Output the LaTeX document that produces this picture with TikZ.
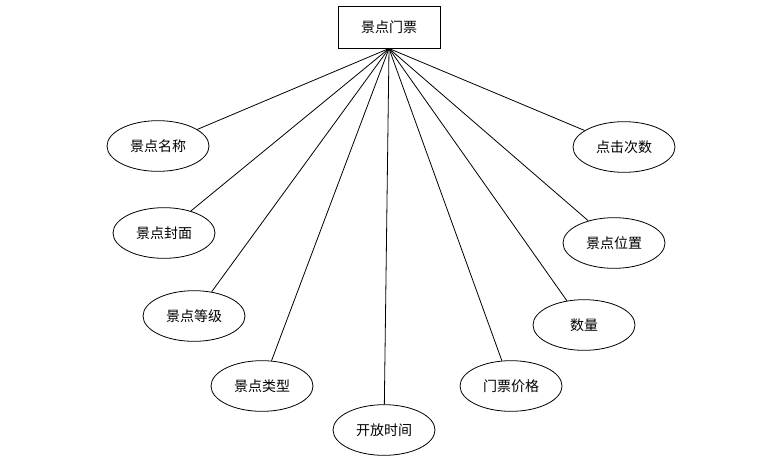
\documentclass[tikz,border=0pt]{standalone}
\usepackage{fontspec}
\newfontfamily\cjk{Noto Sans CJK SC}
\usepackage{tikz}
\usetikzlibrary{shapes.geometric}

\begin{document}
\begin{tikzpicture}[x=0.75pt, y=-0.75pt,
    entity/.style={draw, line width=0.75pt, rectangle, minimum width=76.5pt, minimum height=31.5pt, inner sep=0pt, font=\cjk\fontsize{10.5}{12}\selectfont},
    attr/.style={draw, line width=0.6pt, ellipse, minimum width=76.5pt, minimum height=38pt, inner sep=0pt, font=\cjk\fontsize{10.5}{12}\selectfont},
    link/.style={line width=0.6pt}]
    \useasboundingbox (0,0) rectangle (780,475);

    % Entity
    \node[entity] (ticket) at (389,27) {景点门票};

    % Attributes, left side
    \node[attr] (name)  at (158,146) {景点名称};
    \node[attr] (cover) at (164,233) {景点封面};
    \node[attr] (grade) at (194,316) {景点等级};
    \node[attr] (type)  at (262,386) {景点类型};

    % Attributes, bottom and right side
    \node[attr] (open)   at (384,430) {开放时间};
    \node[attr] (price)  at (511,386) {门票价格};
    \node[attr] (amount) at (584,325) {数量};
    \node[attr] (place)  at (614,243) {景点位置};
    \node[attr] (clicks) at (624,147) {点击次数};

    % Links
    \foreach \a in {name, cover, grade, type, open, price, amount, place, clicks}
        \draw[link] (ticket.south) -- (\a);
\end{tikzpicture}
\end{document}
